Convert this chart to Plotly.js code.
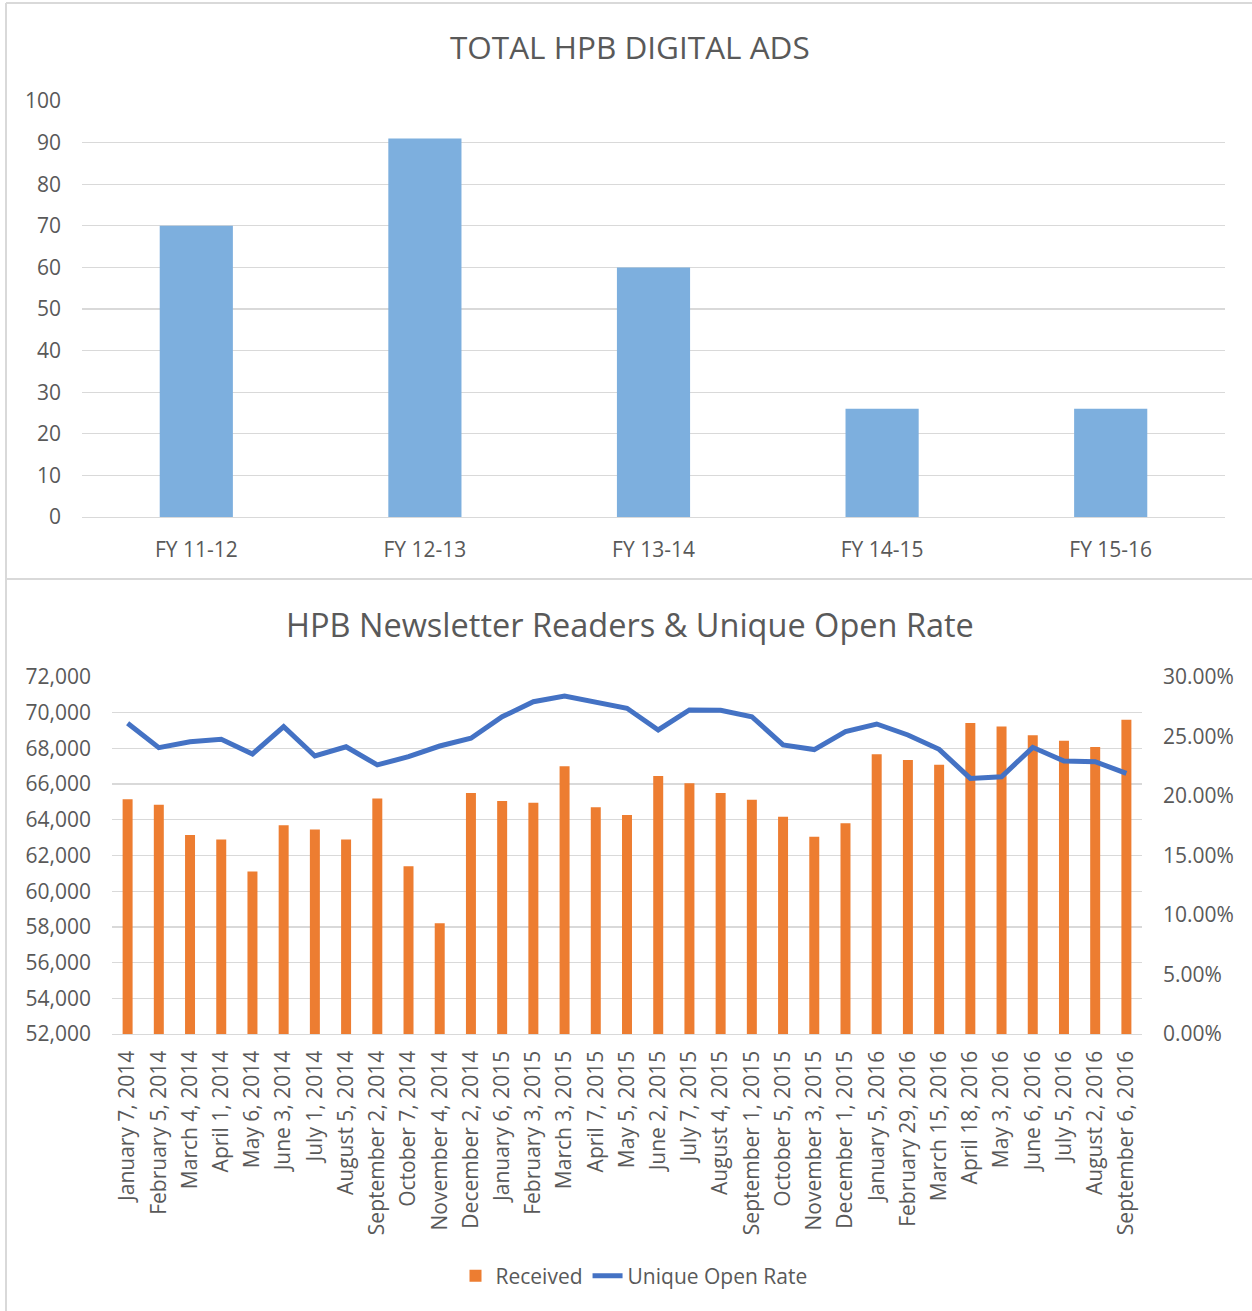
<!DOCTYPE html>
<html>
<head>
<meta charset="utf-8">
<script src="https://cdn.plot.ly/plotly-3.0.1.min.js"></script>
<style>html,body{margin:0;padding:0;background:#fff;}#chart{width:1252px;height:1311px;}</style>
</head>
<body>
<div id="chart"></div>
<script>
// ---- Top chart data ----
const fyCategories = ["FY 11-12", "FY 12-13", "FY 13-14", "FY 14-15", "FY 15-16"];
const digitalAds = [70, 91, 60, 26, 26];

// ---- Bottom chart data ----
const sendDates = [
  "January 7, 2014", "February 5, 2014", "March 4, 2014", "April 1, 2014", "May 6, 2014",
  "June 3, 2014", "July 1, 2014", "August 5, 2014", "September 2, 2014", "October 7, 2014",
  "November 4, 2014", "December 2, 2014", "January 6, 2015", "February 3, 2015", "March 3, 2015",
  "April 7, 2015", "May 5, 2015", "June 2, 2015", "July 7, 2015", "August 4, 2015",
  "September 1, 2015", "October 5, 2015", "November 3, 2015", "December 1, 2015", "January 5, 2016",
  "February 29, 2016", "March 15, 2016", "April 18, 2016", "May 3, 2016", "June 6, 2016",
  "July 5, 2016", "August 2, 2016", "September 6, 2016"
];
const received = [
  65150, 64850, 63150, 62900, 61100,
  63700, 63450, 62900, 65200, 61400,
  58200, 65500, 65050, 64950, 67000,
  64700, 64270, 66450, 66050, 65500,
  65130, 64170, 63050, 63800, 67670,
  67350, 67090, 69420, 69220, 68730,
  68430, 68080, 69610
];
const uniqueOpenRate = [
  0.2611, 0.2406, 0.2456, 0.2476, 0.2353,
  0.2583, 0.2336, 0.2414, 0.2261, 0.2330,
  0.2420, 0.2485, 0.2666, 0.2792, 0.2840,
  0.2787, 0.2737, 0.2555, 0.2723, 0.2720,
  0.2666, 0.2429, 0.2390, 0.2541, 0.2605,
  0.2513, 0.2392, 0.2148, 0.2162, 0.2409,
  0.2294, 0.2288, 0.2190
];

const W = 1252, H = 1311;
const fx = px => px / W;
const fy = py => 1 - py / H;
const FONT = "Open Sans, sans-serif";
const GREY = "#595959";
const GRID = "#D9D9D9";

const traces = [
  {
    type: "bar", x: fyCategories, y: digitalAds, xaxis: "x", yaxis: "y",
    marker: {color: "#7DAFDE"}, showlegend: false, hoverinfo: "x+y"
  },
  {
    type: "bar", name: "Received", x: sendDates, y: received, xaxis: "x2", yaxis: "y2",
    marker: {color: "#ED7D31"}
  },
  {
    type: "scatter", mode: "lines", name: "Unique Open Rate", x: sendDates, y: uniqueOpenRate,
    xaxis: "x2", yaxis: "y3", line: {color: "#4472C4", width: 5}
  }
];

const tickFont = {family: FONT, size: 21, color: GREY};

const layout = {
  width: W, height: H,
  margin: {l: 0, r: 0, t: 0, b: 0},
  paper_bgcolor: "#fff", plot_bgcolor: "#fff",
  font: {family: FONT, color: GREY},
  bargap: 0.68,
  xaxis: {
    domain: [fx(82), fx(1225)], anchor: "y",
    showline: true, linecolor: GRID, linewidth: 1.3,
    showgrid: false, ticks: "", tickfont: tickFont,
    ticklabelstandoff: 13, fixedrange: true
  },
  yaxis: {
    domain: [fy(517), fy(101)], anchor: "x",
    range: [0, 100], dtick: 10, showgrid: true, gridcolor: GRID, gridwidth: 1.3,
    zeroline: false, showline: false, ticks: "", tickfont: tickFont,
    ticklabelstandoff: 20, fixedrange: true
  },
  xaxis2: {
    domain: [fx(112), fx(1142)], anchor: "y2",
    showline: true, linecolor: GRID, linewidth: 1.3,
    showgrid: false, ticks: "", tickangle: -90, tickfont: tickFont,
    ticklabelstandoff: 7, fixedrange: true
  },
  yaxis2: {
    domain: [fy(1034), fy(677)], anchor: "x2",
    range: [52000, 72000], dtick: 2000, tickformat: ",d",
    showgrid: true, gridcolor: GRID, gridwidth: 1.3, zeroline: false, showline: false,
    ticks: "", tickfont: tickFont, ticklabelstandoff: 20, fixedrange: true
  },
  yaxis3: {
    overlaying: "y2", side: "right", anchor: "x2",
    range: [0, 0.3], dtick: 0.05, tickformat: ".2%",
    showgrid: false, zeroline: false, showline: false,
    ticks: "", tickfont: tickFont, ticklabelstandoff: 20, fixedrange: true
  },
  legend: {
    orientation: "h", x: fx(634), xanchor: "center", y: fy(1276), yanchor: "middle",
    font: {family: FONT, size: 21, color: GREY}, bgcolor: "rgba(0,0,0,0)"
  },
  annotations: [
    {text: "TOTAL HPB DIGITAL ADS", xref: "paper", yref: "paper", x: fx(630), y: fy(47),
     xanchor: "center", yanchor: "middle", showarrow: false,
     font: {family: FONT, size: 31.5, color: GREY}},
    {text: "HPB Newsletter Readers &amp; Unique Open Rate", xref: "paper", yref: "paper",
     x: fx(630), y: fy(624), xanchor: "center", yanchor: "middle", showarrow: false,
     font: {family: FONT, size: 32.5, color: GREY}}
  ],
  shapes: [
    {type: "line", xref: "paper", yref: "paper", x0: fx(6), x1: fx(6), y0: 0, y1: fy(3),
     line: {color: GRID, width: 2}},
    {type: "line", xref: "paper", yref: "paper", x0: fx(6), x1: 1, y0: fy(3), y1: fy(3),
     line: {color: GRID, width: 2}},
    {type: "line", xref: "paper", yref: "paper", x0: fx(6), x1: 1, y0: fy(579), y1: fy(579),
     line: {color: GRID, width: 2}}
  ]
};

Plotly.newPlot("chart", traces, layout, {displayModeBar: false, staticPlot: true});
</script>
</body>
</html>
